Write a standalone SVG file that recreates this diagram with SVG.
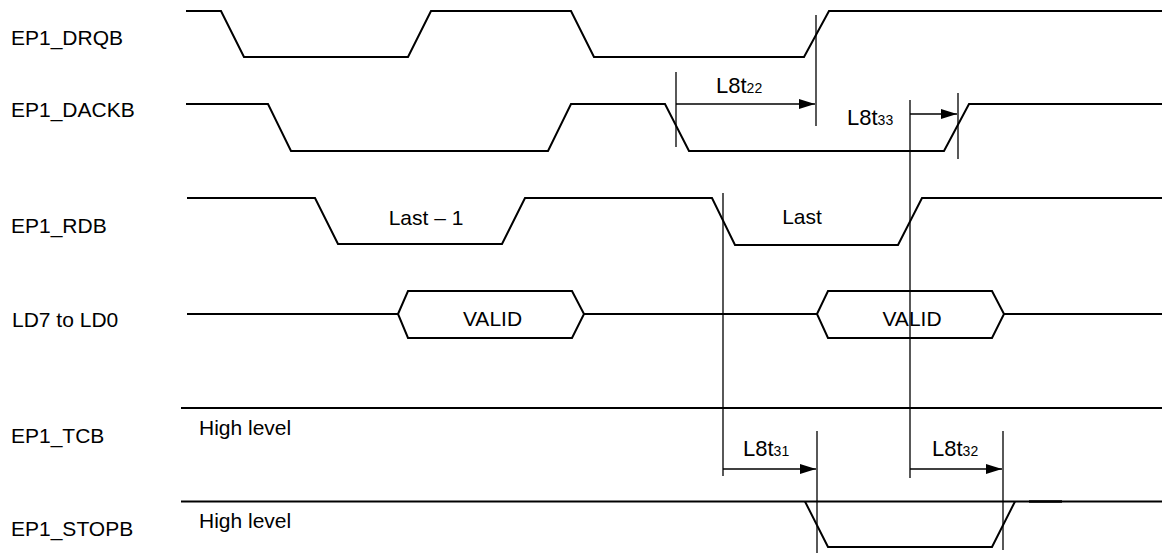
<svg xmlns="http://www.w3.org/2000/svg" width="1166" height="554" viewBox="0 0 1166 554">
<style>
text{font-family:"Liberation Sans",Arial,sans-serif;font-size:21px;fill:#000}
.t{font-size:22px}
.s{font-size:14px}
.w{fill:none;stroke:#000;stroke-width:2;stroke-linejoin:miter}
.v{fill:none;stroke:#000;stroke-width:1.3}
.a{fill:none;stroke:#000;stroke-width:1.3;marker-end:url(#arr)}
</style>
<defs>
<marker id="arr" markerWidth="16" markerHeight="10" refX="16" refY="5" orient="auto" markerUnits="userSpaceOnUse"><path d="M0,0 L16,5 L0,10 z" fill="#000"/></marker>
</defs>
<rect width="1166" height="554" fill="#fff"/>
<g id="drqb">
<text x="11" y="45">EP1_DRQB</text>
<path class="w" d="M186,11 L221,11 L244,57 L408,57 L431,11 L571,11 L594,57 L804,57 L829,11 L1162,11"/>
</g>
<g id="dackb">
<text x="11" y="116.5">EP1_DACKB</text>
<path class="w" d="M186,104 L268,104 L291,151 L548,151 L571,104 L665,104 L689,151 L944,151 L969,104 L1162,104"/>
</g>
<g id="rdb">
<text x="11" y="233">EP1_RDB</text>
<path class="w" d="M187,198 L315,198 L338,244 L502,244 L525,198 L712,198 L735,245 L898,245 L922,198 L1162,198"/>
<text x="426" y="225" text-anchor="middle">Last – 1</text>
<text x="802" y="224" text-anchor="middle">Last</text>
</g>
<g id="ld">
<text x="12" y="326.5">LD7 to LD0</text>
<path class="w" d="M187,314 L398,314 M584,314 L817,314 M1004,314 L1162,314"/>
<path class="w" d="M398,314 L408,291 L572,291 L584,314 L572,338 L408,338 Z"/>
<path class="w" d="M817,314 L828,291 L992,291 L1004,314 L992,338 L828,338 Z"/>
<text x="492.5" y="326" text-anchor="middle">VALID</text>
<text x="912" y="326" text-anchor="middle">VALID</text>
</g>
<g id="tcb">
<text x="11" y="443">EP1_TCB</text>
<path class="w" d="M181,408 L1162,408"/>
<text x="199" y="435">High level</text>
</g>
<g id="stopb">
<text x="11" y="536">EP1_STOPB</text>
<path class="w" d="M181,501.5 L1162,501.5"/>
<path class="w" d="M805,501.5 L828,547 L992,547 L1015,501.5"/>
<path fill="none" stroke="#000" stroke-width="2.6" d="M1029,501.5 L1062,501.5"/>
<text x="199" y="528">High level</text>
</g>
<g id="connectors">
<path class="v" d="M816,15 V126 M676,72 V147 M958,93 V159 M910,100 V478 M723,193 V476 M817,431 V553 M1003,431 V550"/>
<path class="a" d="M676,104 H815"/>
<path class="a" d="M910,114 H957"/>
<path class="a" d="M723,469 H816"/>
<path class="a" d="M910,469 H1002"/>
<text class="t" x="716" y="92.5">L8t<tspan class="s">22</tspan></text>
<text class="t" x="847" y="125">L8t<tspan class="s">33</tspan></text>
<text class="t" x="743" y="456">L8t<tspan class="s">31</tspan></text>
<text class="t" x="932" y="456">L8t<tspan class="s">32</tspan></text>
</g>
</svg>
